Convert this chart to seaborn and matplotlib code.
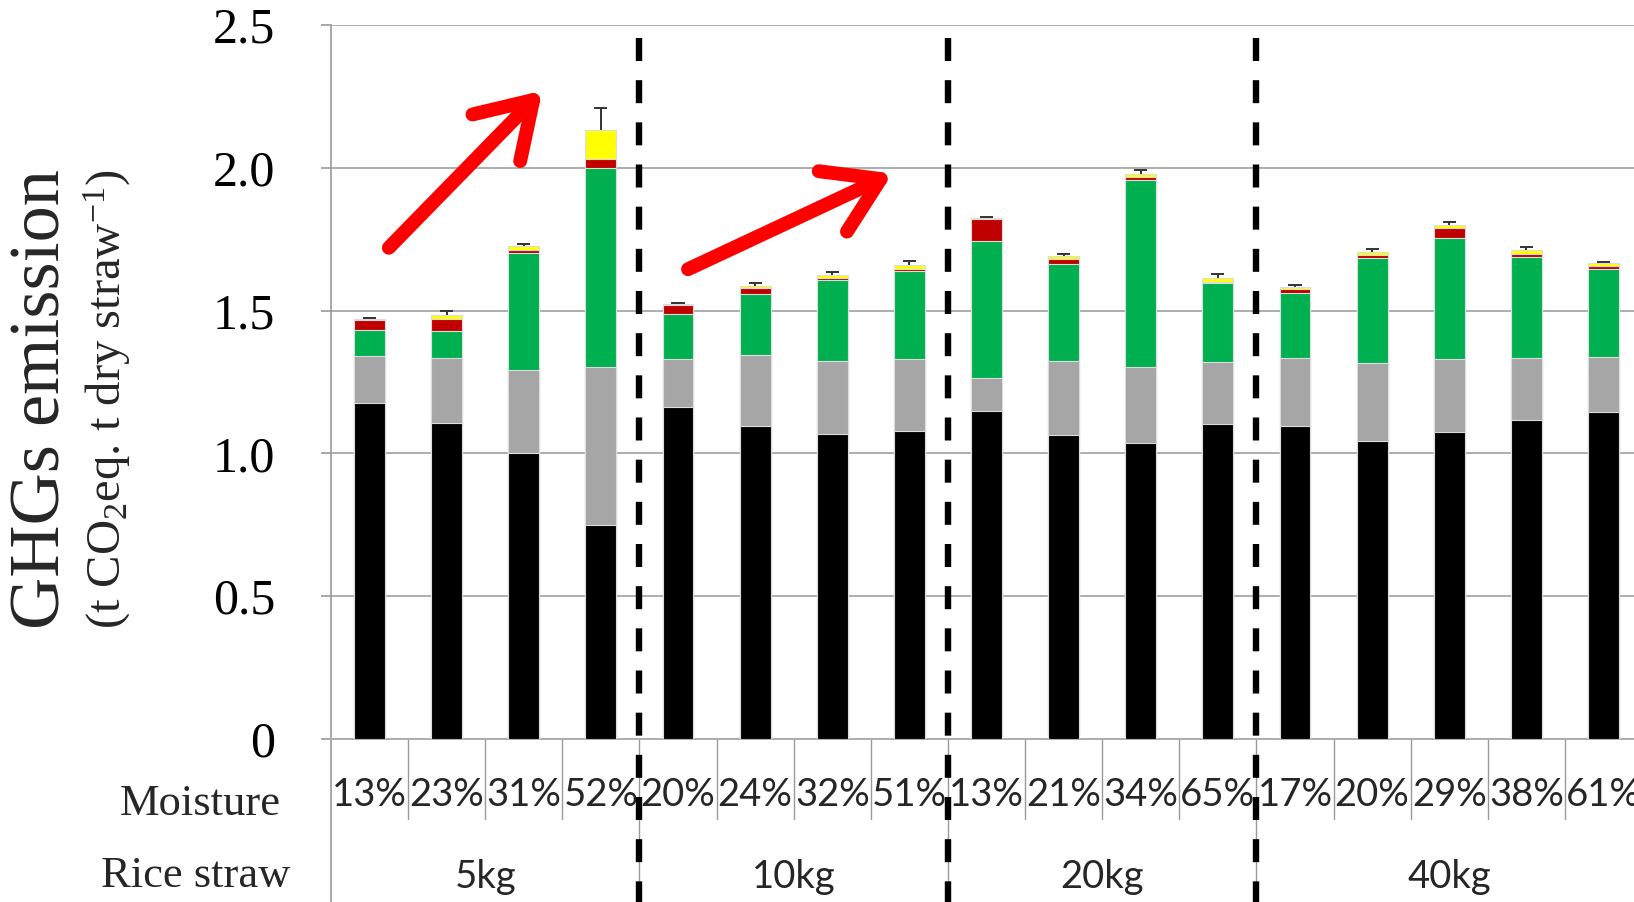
import numpy as np
import pandas as pd
import matplotlib
matplotlib.use("Agg")
import matplotlib.pyplot as plt
import matplotlib.transforms as mtransforms
import seaborn as sns

# ---------------- data ----------------
straw_groups = ["5kg", "10kg", "20kg", "40kg"]
group_sizes = [4, 4, 4, 5]
moisture = ["13%", "23%", "31%", "52%",
            "20%", "24%", "32%", "51%",
            "13%", "21%", "34%", "65%",
            "17%", "20%", "29%", "38%", "61%"]
black_part = [1.178, 1.105, 1.003, 0.748, 1.161, 1.096, 1.068, 1.080,
              1.148, 1.063, 1.035, 1.104, 1.096, 1.042, 1.074, 1.117, 1.145]
gray_part = [0.163, 0.230, 0.289, 0.553, 0.170, 0.249, 0.256, 0.251,
             0.116, 0.261, 0.266, 0.216, 0.238, 0.276, 0.255, 0.217, 0.192]
green_part = [0.091, 0.092, 0.410, 0.697, 0.157, 0.214, 0.284, 0.308,
              0.481, 0.340, 0.655, 0.277, 0.228, 0.366, 0.425, 0.354, 0.308]
red_part = [0.035, 0.042, 0.010, 0.033, 0.030, 0.020, 0.007, 0.008,
            0.075, 0.017, 0.011, 0.004, 0.013, 0.012, 0.036, 0.011, 0.012]
yellow_part = [0.003, 0.016, 0.014, 0.101, 0.005, 0.008, 0.010, 0.013,
               0.005, 0.009, 0.011, 0.014, 0.006, 0.009, 0.010, 0.013, 0.009]
error_up = [0.003, 0.014, 0.008, 0.078, 0.003, 0.011, 0.009, 0.014,
            0.004, 0.007, 0.013, 0.013, 0.008, 0.010, 0.011, 0.012, 0.005]
y_ticks = [0, 0.5, 1.0, 1.5, 2.0, 2.5]
y_tick_labels = ["0", "0.5", "1.0", "1.5", "2.0", "2.5"]

layer_names = ["black", "gray", "green", "red", "yellow"]
layer_colors = ["#000000", "#A6A6A6", "#00B050", "#C00000", "#FFFF00"]
layers = [black_part, gray_part, green_part, red_part, yellow_part]

# ---------------- figure ----------------
sns.set_theme(style="white")
plt.rcParams["font.family"] = ["Liberation Serif", "DejaVu Serif"]
plt.rcParams["mathtext.fontset"] = "custom"
plt.rcParams["mathtext.rm"] = "Liberation Serif"
plt.rcParams["mathtext.it"] = "Liberation Serif:italic"

W, H = 1634, 902
fig = plt.figure(figsize=(W / 100, H / 100), dpi=100)
ax_left, ax_bottom = 331 / W, (H - 739) / H
ax_w, ax_h = (1642 - 331) / W, (739 - 25) / H
ax = fig.add_axes([ax_left, ax_bottom, ax_w, ax_h])

ids = [f"{i}" for i in range(len(moisture))]
cum = np.cumsum(np.array(layers), axis=0)
df = pd.DataFrame({"id": ids})
for k, name in enumerate(layer_names):
    df[name] = cum[k]

# draw cumulative layers from top down so each lower layer overlays
for k in reversed(range(len(layer_names))):
    sns.barplot(data=df, x="id", y=layer_names[k], order=ids, color=layer_colors[k],
                saturation=1, width=0.40, edgecolor="#dcdcdc", linewidth=0.8,
                ax=ax, zorder=3)

totals = cum[-1]
x_pos = np.arange(len(ids))
err_top = totals + np.array(error_up)
ax.vlines(x_pos, totals, err_top, color="#333333", lw=1.4, zorder=4)
ax.hlines(err_top, x_pos - 0.085, x_pos + 0.085, color="#333333", lw=1.4, zorder=4)

ax.set_xlim(-0.5, len(ids) - 0.5)
ax.set_ylim(0, 2.5)
ax.set_yticks(y_ticks)
ax.set_yticklabels(y_tick_labels, fontsize=36, fontfamily="Liberation Serif")
ax.set_xticks([])
ax.set_xlabel("")
ax.set_ylabel("")
ax.grid(axis="y", color="#ADADAD", lw=1.4, zorder=0)
ax.set_axisbelow(True)
for s in ["top", "right"]:
    ax.spines[s].set_visible(False)
ax.spines["left"].set_color("#999999")
ax.spines["left"].set_linewidth(1.2)
ax.spines["bottom"].set_color("#ADADAD")
ax.spines["bottom"].set_linewidth(1.4)
ax.tick_params(axis="y", left=True, length=7, width=1.2, color="#999999",
               pad=33, labelcolor="black")

trans = mtransforms.blended_transform_factory(ax.transData, ax.transAxes)
bot = -(H - 739) / (739 - 25) - 0.01
sep_low = -(819 - 739) / (739 - 25)

# left axis line continues below
ax.plot([-0.5, -0.5], [0, bot], transform=trans, color="#999999", lw=1.2, clip_on=False)
# category separators
bounds = np.cumsum(group_sizes)[:-1] - 0.5
for i in range(1, len(ids)):
    xb = i - 0.5
    if xb in bounds:
        ax.plot([xb, xb], [0, bot], transform=trans, color="#999999", lw=1.0, clip_on=False)
    else:
        ax.plot([xb, xb], [0, sep_low], transform=trans, color="#999999", lw=1.0, clip_on=False)

# dashed group dividers
for xb in bounds:
    ax.plot([xb, xb], [(739 - 38) / (739 - 25), bot], transform=trans, color="black",
            lw=4.6, dashes=(3.6, 3.0), clip_on=False, zorder=6,
            dash_capstyle="butt")

# moisture labels
mrow = -(795 - 739) / (739 - 25)
grow = -(877 - 739) / (739 - 25)
for i, m in enumerate(moisture):
    ax.text(i, mrow, m, transform=trans, ha="center", va="center", fontsize=27.5,
            fontfamily="Lato", clip_on=False)
start = 0
for g, n in zip(straw_groups, group_sizes):
    center = start + (n - 1) / 2
    ax.text(center, grow, g, transform=trans, ha="center", va="center", fontsize=27.5,
            fontfamily="Lato", clip_on=False)
    start += n

fig.text(281 / W, 1 - 804 / H, "Moisture", ha="right", va="center", fontsize=32,
         fontfamily="Liberation Serif")
fig.text(290 / W, 1 - 876 / H, "Rice straw", ha="right", va="center", fontsize=32,
         fontfamily="Liberation Serif")

# y-axis titles
fig.text(42 / W, 1 - 399 / H, "GHGs emission", rotation=90, ha="center", va="center",
         fontsize=52, fontfamily="Liberation Serif")
fig.text(107 / W, 1 - 399 / H, r"(t CO$_2$eq. t dry straw$^{\mathregular{-1}}$)", rotation=90,
         ha="center", va="center", fontsize=35, fontfamily="Liberation Serif")

# red arrows
arrow_kw = dict(arrowstyle="->,head_length=0.95,head_width=0.6", color="red", lw=10,
                mutation_scale=40, shrinkA=0, shrinkB=0, capstyle="round",
                joinstyle="round")
ax.annotate("", xy=(2.24, 2.27), xytext=(0.25, 1.72), arrowprops=arrow_kw,
            annotation_clip=False, zorder=7)
ax.annotate("", xy=(6.78, 1.98), xytext=(4.13, 1.645), arrowprops=arrow_kw,
            annotation_clip=False, zorder=7)

fig.savefig("out.png", dpi=100)
